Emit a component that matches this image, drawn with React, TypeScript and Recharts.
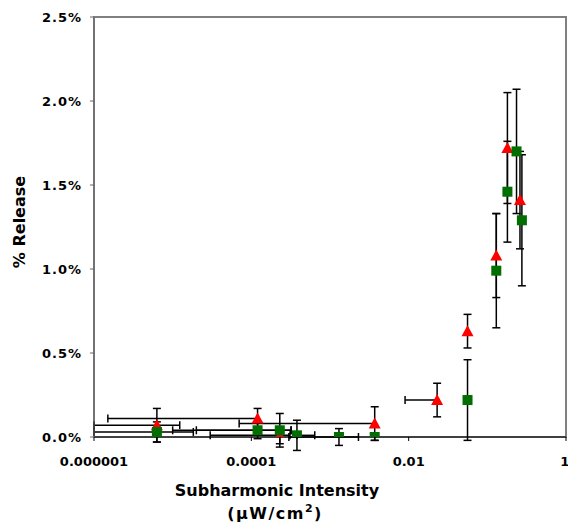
import React from "react"
import { ScatterChart, Scatter, XAxis, YAxis, ErrorBar, ReferenceArea, Label } from "recharts"

// tick labels
const xTicks = [0.000001, 0.0001, 0.01, 1]
const xTickLabels = ["0.000001", "0.0001", "0.01", "1"]
const yTicks = [0, 0.5, 1.0, 1.5, 2.0, 2.5]

// red triangles
const redX = [0.0000063, 0.00012, 0.00023, 0.0037, 0.023, 0.056, 0.13, 0.18, 0.26]
const redY = [0.07, 0.11, 0.01, 0.08, 0.22, 0.63, 1.08, 1.72, 1.41]
const redYErr = [0.1, 0.06, 0.05, 0.1, 0.1, 0.1, 0.25, 0.33, 0.29]
const redXErrLow = [0.0000053, 0.0001185, 0.0002, 0.00363, 0.014, 0, 0, 0, 0]
const redXErrHigh = [0.000006, 0, 0.00008, 0, 0, 0, 0, 0, 0]

// green squares
const greenX = [0.0000063, 0.00012, 0.00023, 0.00038, 0.0013, 0.0037, 0.056, 0.13, 0.18, 0.235, 0.275]
const greenY = [0.03, 0.04, 0.04, 0.01, 0.0, 0.0, 0.22, 0.99, 1.46, 1.7, 1.29]
const greenYErr = [0.06, 0.05, 0.1, 0.09, 0.05, 0.02, 0.24, 0.34, 0.3, 0.37, 0.39]
const greenXErrLow = [0.0000053, 0.00011, 0.00021, 0, 0.001, 0, 0, 0, 0, 0, 0]
const greenXErrHigh = [0.000012, 0.0002, 0.00009, 0.00026, 0.001, 0, 0, 0, 0, 0, 0]

const toRows = (xs: number[], ys: number[], ey: number[], lo: number[], hi: number[]) =>
  xs.map((x, i) => ({
    x,
    y: ys[i],
    ey: ey[i],
    ex: lo[i] || hi[i] ? [lo[i], hi[i]] : undefined,
  }))

const redData = toRows(redX, redY, redYErr, redXErrLow, redXErrHigh)
const greenData = toRows(greenX, greenY, greenYErr, greenXErrLow, greenXErrHigh)

const font = "'DejaVu Sans', Verdana, sans-serif"

const Triangle = (props: any) => {
  const { cx, cy } = props
  return <polygon points={`${cx},${cy - 6} ${cx + 6},${cy + 5} ${cx - 6},${cy + 5}`} fill="#ff0000" />
}

const Square = (props: any) => {
  const { cx, cy } = props
  return <rect x={cx - 5} y={cy - 5} width={10} height={10} fill="#006e00" />
}

const UnitLabel = () => (
  <text x={275} y={519} textAnchor="middle" fontFamily={font} fontWeight="bold" fontSize={16} letterSpacing={1.5} fill="#000">
    <tspan>(μW/cm</tspan>
    <tspan dy={-7} fontSize={11}>2</tspan>
    <tspan dy={7}>)</tspan>
  </text>
)

export default function App() {
  return (
    <div style={{ position: "absolute", left: 0, top: 0, background: "#fff" }}>
      <ScatterChart width={568} height={531} margin={{ top: 17, right: 2, bottom: 0, left: 0 }}>
        <ReferenceArea x1={0.000001} x2={1} y1={0} y2={2.5} fill="none" stroke="#808080" strokeWidth={2} ifOverflow="visible" />
        <XAxis
          type="number"
          dataKey="x"
          scale="log"
          domain={[0.000001, 1]}
          allowDataOverflow
          ticks={xTicks}
          tickFormatter={(v: number) => xTickLabels[xTicks.indexOf(v)] ?? String(v)}
          height={94}
          stroke="#000"
          tickSize={4}
          tickMargin={16}
          tick={{ fill: "#000", fontSize: 13, fontWeight: "bold", fontFamily: font }}
        >
          <Label
            content={() => (
              <text x={277} y={496} textAnchor="middle" fontFamily={font} fontWeight="bold" fontSize={16} fill="#000">
                Subharmonic Intensity
              </text>
            )}
          />
          <Label content={() => <UnitLabel />} />
        </XAxis>
        <YAxis
          type="number"
          dataKey="y"
          domain={[0, 2.5]}
          allowDataOverflow
          ticks={yTicks}
          tickFormatter={(v: number) => `${v.toFixed(1)}%`}
          width={94}
          stroke="#666"
          tickSize={4}
          tickMargin={8}
          tick={{ fill: "#000", fontSize: 13, fontWeight: "bold", fontFamily: font, letterSpacing: 1 }}
        >
          <Label
            content={() => (
              <text
                x={25}
                y={222}
                transform="rotate(-90 25 222)"
                textAnchor="middle"
                fontFamily={font}
                fontWeight="bold"
                fontSize={16}
                fill="#000"
              >
                % Release
              </text>
            )}
          />
        </YAxis>
        <Scatter data={redData} shape={Triangle} isAnimationActive={false}>
          <ErrorBar dataKey="ey" direction="y" width={4} stroke="#000" strokeWidth={1.5} />
          <ErrorBar dataKey="ex" direction="x" width={4} stroke="#000" strokeWidth={1.5} />
        </Scatter>
        <Scatter data={greenData} shape={Square} isAnimationActive={false}>
          <ErrorBar dataKey="ey" direction="y" width={4} stroke="#000" strokeWidth={1.5} />
          <ErrorBar dataKey="ex" direction="x" width={4} stroke="#000" strokeWidth={1.5} />
        </Scatter>
      </ScatterChart>
    </div>
  )
}
